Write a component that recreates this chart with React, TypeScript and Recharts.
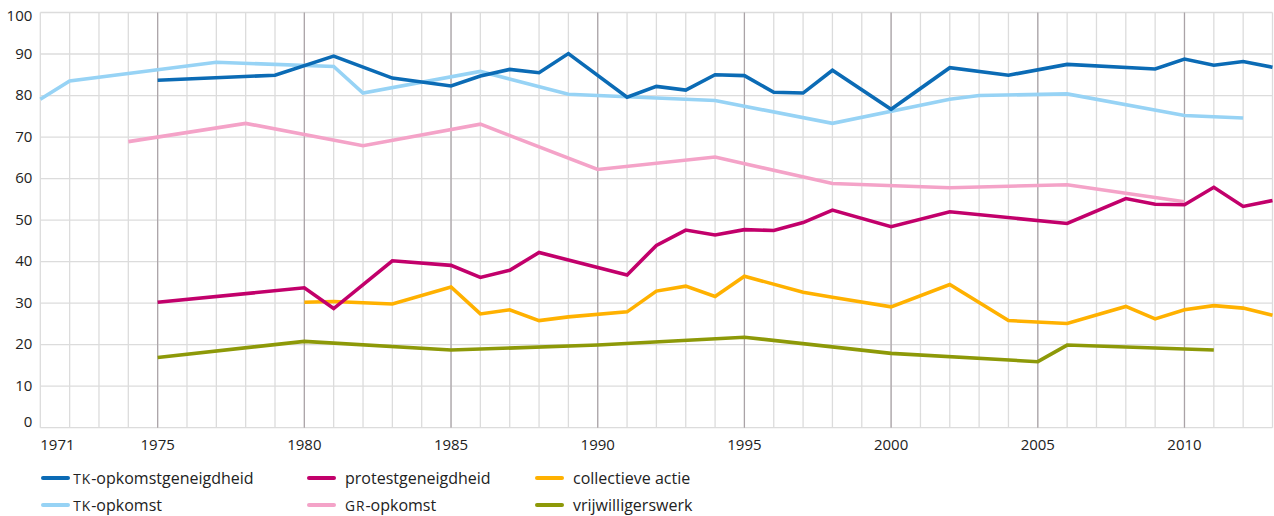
import React from "react";
import {
  LineChart,
  Line,
  XAxis,
  YAxis,
  CartesianGrid,
  ReferenceLine,
} from "recharts";

// survey years and values per series (only years with a measurement)
const tkGeneigdYears = [1975, 1979, 1981, 1983, 1985, 1986, 1987, 1988, 1989, 1991, 1992, 1993, 1994, 1995, 1996, 1997, 1998, 2000, 2002, 2004, 2006, 2009, 2010, 2011, 2012, 2013];
const tkGeneigdValues = [83.7, 84.9, 89.5, 84.2, 82.3, 84.7, 86.3, 85.5, 90.1, 79.6, 82.2, 81.3, 85.0, 84.8, 80.8, 80.6, 86.1, 76.7, 86.7, 84.9, 87.5, 86.4, 88.8, 87.3, 88.2, 86.8];

const tkOpkomstYears = [1971, 1972, 1977, 1981, 1982, 1986, 1989, 1994, 1998, 2002, 2003, 2006, 2010, 2012];
const tkOpkomstValues = [79.1, 83.5, 88.0, 87.0, 80.6, 85.8, 80.3, 78.8, 73.3, 79.1, 80.0, 80.4, 75.2, 74.6];

const grOpkomstYears = [1974, 1978, 1982, 1986, 1990, 1994, 1998, 2002, 2006, 2010];
const grOpkomstValues = [68.9, 73.3, 67.9, 73.1, 62.2, 65.2, 58.8, 57.8, 58.5, 54.4];

const protestYears = [1975, 1980, 1981, 1983, 1985, 1986, 1987, 1988, 1991, 1992, 1993, 1994, 1995, 1996, 1997, 1998, 2000, 2002, 2006, 2008, 2009, 2010, 2011, 2012, 2013];
const protestValues = [30.2, 33.7, 28.7, 40.2, 39.1, 36.2, 37.9, 42.2, 36.8, 43.9, 47.6, 46.4, 47.7, 47.5, 49.4, 52.4, 48.4, 52.0, 49.2, 55.2, 53.8, 53.7, 57.9, 53.3, 54.7];

const collectiefYears = [1980, 1981, 1983, 1985, 1986, 1987, 1988, 1989, 1991, 1992, 1993, 1994, 1995, 1997, 1998, 2000, 2002, 2004, 2006, 2008, 2009, 2010, 2011, 2012, 2013];
const collectiefValues = [30.2, 30.4, 29.8, 33.9, 27.4, 28.4, 25.8, 26.7, 27.9, 32.9, 34.1, 31.6, 36.5, 32.6, 31.4, 29.1, 34.5, 25.8, 25.1, 29.2, 26.2, 28.4, 29.4, 28.8, 27.1];

const vrijwilligYears = [1975, 1980, 1985, 1990, 1995, 2000, 2005, 2006, 2011];
const vrijwilligValues = [16.9, 20.8, 18.7, 19.9, 21.8, 17.9, 15.9, 19.9, 18.7];

const labelYears = [1971, 1975, 1980, 1985, 1990, 1995, 2000, 2005, 2010];
const majorYears = [1975, 1980, 1985, 1990, 1995, 2000, 2005, 2010];
const yTicks = [0, 10, 20, 30, 40, 50, 60, 70, 80, 90, 100];

const FIRST_YEAR = 1971;
const LAST_YEAR = 2013;

const series = [
  { key: "vrijwilligerswerk", years: vrijwilligYears, values: vrijwilligValues, color: "#8d9908" },
  { key: "collectieve actie", years: collectiefYears, values: collectiefValues, color: "#ffb100" },
  { key: "GR-opkomst", years: grOpkomstYears, values: grOpkomstValues, color: "#f4a3c8" },
  { key: "TK-opkomst", years: tkOpkomstYears, values: tkOpkomstValues, color: "#97d3f5" },
  { key: "protestgeneigdheid", years: protestYears, values: protestValues, color: "#c2006b" },
  { key: "TK-opkomstgeneigdheid", years: tkGeneigdYears, values: tkGeneigdValues, color: "#0b6bb5" },
];

const legendRows = [
  ["TK-opkomstgeneigdheid", "protestgeneigdheid", "collectieve actie"],
  ["TK-opkomst", "GR-opkomst", "vrijwilligerswerk"],
];

const allYears: number[] = [];
for (let y = FIRST_YEAR; y <= LAST_YEAR; y++) allYears.push(y);

const data = allYears.map((year) => {
  const row: Record<string, number | null> = { year };
  series.forEach((s) => {
    const i = s.years.indexOf(year);
    row[s.key] = i >= 0 ? s.values[i] : null;
  });
  return row;
});

const font = "'Open Sans', 'Noto Sans', sans-serif";

const YTick = (props: any) => {
  const { x, y, payload } = props;
  const v = payload.value;
  const shift = v === 100 ? 8.2 : v === 0 ? -0.5 : 4.8;
  return (
    <text x={x} y={y + shift} textAnchor="end" fontSize={15} fill="#222" fontFamily={font}>
      {v}
    </text>
  );
};

const XTick = (props: any) => {
  const { x, y, payload } = props;
  if (!labelYears.includes(payload.value)) return null;
  return (
    <text
      x={x}
      y={y + 22.5}
      textAnchor={payload.value === FIRST_YEAR ? "start" : "middle"}
      fontSize={15}
      fill="#222"
      fontFamily={font}
    >
      {payload.value}
    </text>
  );
};

// "TK" / "GR" are printed as small caps in the original
function LegendLabel({ text }: { text: string }) {
  const m = text.match(/^([A-Z]{2})(-.*)$/);
  if (!m) return <>{text}</>;
  return (
    <>
      <span style={{ fontSize: "0.86em", letterSpacing: "0.07em" }}>{m[1]}</span>
      {m[2]}
    </>
  );
}

const iconX = [40.7, 307.3, 535];
const textX = [73.3, 345, 573];
const legendRowY = [478.3, 505];

export default function App() {
  const colorOf = (k: string) => series.find((s) => s.key === k)!.color;
  return (
    <div style={{ position: "absolute", left: 0, top: 0, width: 1274, height: 516, background: "#fff" }}>
      <LineChart
        width={1274}
        height={460}
        data={data}
        margin={{ top: 12.5, right: 1.5, bottom: 0, left: 0 }}
      >
        <CartesianGrid stroke="#dcdcdc" strokeWidth={1.3} />
        {majorYears.map((yr) => (
          <ReferenceLine key={yr} x={yr} stroke="#aaa3a7" strokeWidth={1.2} />
        ))}
        <XAxis
          dataKey="year"
          type="number"
          domain={[FIRST_YEAR, LAST_YEAR]}
          ticks={allYears}
          interval={0}
          height={32.3}
          tickSize={0}
          tickMargin={0}
          axisLine={false}
          tickLine={false}
          tick={<XTick />}
        />
        <YAxis
          domain={[0, 100]}
          ticks={yTicks}
          width={40.3}
          tickSize={0}
          tickMargin={8}
          axisLine={false}
          tickLine={false}
          tick={<YTick />}
        />
        {series.map((s) => (
          <Line
            key={s.key}
            dataKey={s.key}
            type="linear"
            stroke={s.color}
            strokeWidth={3.6}
            strokeLinecap="butt"
            strokeLinejoin="miter"
            dot={false}
            activeDot={false}
            connectNulls
            isAnimationActive={false}
          />
        ))}
      </LineChart>
      {legendRows.map((row, ri) =>
        row.map((name, ci) => (
          <React.Fragment key={name}>
            <span
              style={{
                position: "absolute",
                left: iconX[ci],
                top: legendRowY[ri] - 2,
                width: 29,
                height: 4,
                borderRadius: 2,
                background: colorOf(name),
              }}
            />
            <span
              style={{
                position: "absolute",
                left: textX[ci],
                top: legendRowY[ri] - 11,
                height: 22,
                lineHeight: "22px",
                fontFamily: font,
                fontSize: 16,
                color: "#222",
                whiteSpace: "nowrap",
              }}
            >
              <LegendLabel text={name} />
            </span>
          </React.Fragment>
        ))
      )}
    </div>
  );
}
